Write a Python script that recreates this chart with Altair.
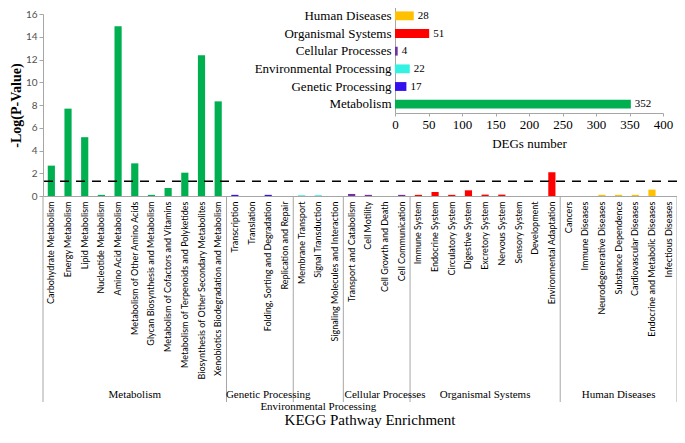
import altair as alt
import pandas as pd

categories = [
    "Carbohydrate Metabolism", "Energy Metabolism", "Lipid Metabolism", "Nucleotide Metabolism",
    "Amino Acid Metabolism", "Metabolism of Other Amino Acids", "Glycan Biosynthesis and Metabolism",
    "Metabolism of Cofactors and Vitamins", "Metabolism of Terpenoids and Polyketides",
    "Biosynthesis of Other Secondary Metabolites", "Xenobiotics Biodegradation  and Metabolism",
    "Transcription", "Translation", "Folding, Sorting and Degradation", "Replication and Repair",
    "Membrane Transport", "Signal Transduction", "Signaling Molecules and Interaction",
    "Transport and Catabolism", "Cell Motility", "Cell Growth and Death", "Cell Communication",
    "Immune System", "Endocrine System", "Circulatory System", "Digestive System", "Excretory System",
    "Nervous System", "Sensory System", "Development", "Environmental Adaptation",
    "Cancers", "Immune Diseases", "Neurodegenerative Diseases", "Substance Dependence",
    "Cardiovascular Diseases", "Endocrine and Metabolic  Diseases", "Infectious Diseases",
]
values = [
    2.67, 7.68, 5.17, 0.1, 14.93, 2.87, 0.1, 0.7, 2.05, 12.37, 8.32,
    0.1, 0.0, 0.1, 0.0,
    0.07, 0.07, 0.0,
    0.18, 0.1, 0.0, 0.1,
    0.1, 0.35, 0.1, 0.5, 0.12, 0.12, 0.0, 0.0, 2.08,
    0.0, 0.0, 0.1, 0.1, 0.1, 0.56, 0.0,
]
group_names = ["Metabolism", "Genetic Processing", "Environmental Processing",
               "Cellular Processes", "Organismal Systems", "Human Diseases"]
group_sizes = [11, 4, 3, 4, 9, 7]
group_colors = ["#00B050", "#3311EE", "#33F2E2", "#7030A0", "#FF0000", "#FFC000"]

deg_groups = ["Human Diseases", "Organismal Systems", "Cellular Processes",
              "Environmental Processing", "Genetic Processing", "Metabolism"]
deg_counts = [28, 51, 4, 22, 17, 352]

threshold = 1.3
y_ticks = list(range(0, 17, 2))
deg_ticks = list(range(0, 401, 50))

# ---- derived tables
grp_col = []
for g, n in zip(group_names, group_sizes):
    grp_col += [g] * n
df = pd.DataFrame({"cat": categories, "val": values, "grp": grp_col})

starts, odd_rows, even_rows = [], [], []
pos = 0
for g, n in zip(group_names, group_sizes):
    starts.append({"cat": categories[pos]})
    if n % 2 == 1:
        odd_rows.append({"cat": categories[pos + (n - 1) // 2], "name": g})
    else:
        even_rows.append({"cat": categories[pos + n // 2], "name": g})
    pos += n

W, H = 634, 182
GRAY = "#A6A6A6"
SERIF = "Liberation Serif"

xscale = alt.Scale(domain=categories, paddingInner=0, paddingOuter=0)
yscale = alt.Scale(domain=[0, 16], nice=False)
cscale = alt.Scale(domain=group_names, range=group_colors)

x_axis = alt.Axis(title=None, labelAngle=-90, ticks=False, domainColor=GRAY,
                  labelFont="Lato", labelFontSize=9, labelColor="black",
                  labelLimit=300, labelPadding=5, labelOverlap=False)
y_axis = alt.Axis(values=y_ticks, title="-Log(P-Value)", titleFont=SERIF,
                  titleFontWeight="bold", titleFontSize=14, titleColor="black",
                  labelFont="Lato", labelFontSize=10, labelColor="#505050",
                  grid=False, domainColor=GRAY, tickColor=GRAY, tickSize=4,
                  titlePadding=2)

bars = alt.Chart(df).mark_bar(width=alt.RelativeBandSize(0.43)).encode(
    x=alt.X("cat:N", scale=xscale, sort=None, axis=x_axis),
    y=alt.Y("val:Q", scale=yscale, axis=y_axis),
    color=alt.Color("grp:N", scale=cscale, legend=None),
)

thr = alt.Chart(pd.DataFrame({"val": [threshold]})).mark_rule(
    strokeDash=[9, 7], color="black", strokeWidth=1.5
).encode(y=alt.Y("val:Q", scale=yscale, axis=None))

sep = alt.Chart(pd.DataFrame(starts)).mark_rule(color=GRAY, strokeWidth=1).encode(
    x=alt.X("cat:N", scale=xscale, sort=None, axis=None, bandPosition=0),
    y=alt.value(H), y2=alt.value(388),
)
sep_end = alt.Chart(pd.DataFrame({"cat": [categories[-1]]})).mark_rule(
    color=GRAY, strokeWidth=1
).encode(
    x=alt.X("cat:N", scale=xscale, sort=None, axis=None, bandPosition=1),
    y=alt.value(H), y2=alt.value(388),
)

odd_df = pd.DataFrame(odd_rows)
lab_odd_top = alt.Chart(odd_df[odd_df["name"] != "Environmental Processing"]).mark_text(
    font=SERIF, fontSize=11, color="black", baseline="middle"
).encode(
    x=alt.X("cat:N", scale=xscale, sort=None, axis=None, bandPosition=0.5),
    y=alt.value(381), text="name:N",
)
lab_odd_low = alt.Chart(odd_df[odd_df["name"] == "Environmental Processing"]).mark_text(
    font=SERIF, fontSize=11, color="black", baseline="middle"
).encode(
    x=alt.X("cat:N", scale=xscale, sort=None, axis=None, bandPosition=0.5),
    y=alt.value(393), text="name:N",
)
lab_even = alt.Chart(pd.DataFrame(even_rows)).mark_text(
    font=SERIF, fontSize=11, color="black", baseline="middle"
).encode(
    x=alt.X("cat:N", scale=xscale, sort=None, axis=None, bandPosition=0),
    y=alt.value(381), text="name:N",
)
title_txt = alt.Chart(pd.DataFrame({"t": ["KEGG  Pathway Enrichment"]})).mark_text(
    font=SERIF, fontSize=15, color="black", baseline="alphabetic"
).encode(x=alt.value(W / 2 + 10), y=alt.value(411), text="t:N")

# ---- inset
ins_df = pd.DataFrame({"grp": deg_groups, "n": deg_counts})
iy_scale = alt.Scale(domain=deg_groups, range=[-7, 99], paddingInner=0.5, paddingOuter=0.25)
ix_scale = alt.Scale(domain=[0, 400], range=[352, 620], nice=False)
iy_axis = alt.Axis(orient="left", offset=-352, title=None, ticks=False, domainColor=GRAY,
                   labelFont=SERIF, labelFontSize=13, labelColor="black",
                   labelPadding=4, labelLimit=300)
ix_axis = alt.Axis(orient="bottom", offset=-83, values=deg_ticks, title="DEGs number",
                   grid=False, domainColor=GRAY, tickColor=GRAY, tickSize=3,
                   labelFont=SERIF, labelFontSize=13, labelColor="black", labelPadding=2,
                   labelFlush=False,
                   titleFont=SERIF, titleFontSize=13, titleFontWeight="normal",
                   titleColor="black", titlePadding=6)

ibars = alt.Chart(ins_df).mark_bar().encode(
    y=alt.Y("grp:N", sort=None, scale=iy_scale, axis=iy_axis),
    x=alt.X("n:Q", scale=ix_scale, axis=ix_axis),
    color=alt.Color("grp:N", scale=cscale, legend=None),
)
itext = alt.Chart(ins_df).mark_text(
    align="left", dx=4, baseline="middle", font=SERIF, fontSize=11, color="black"
).encode(
    y=alt.Y("grp:N", sort=None, scale=iy_scale, axis=None),
    x=alt.X("n:Q", scale=ix_scale, axis=None),
    text="n:Q",
)

chart = alt.layer(
    bars, thr, sep, sep_end, lab_odd_top, lab_odd_low, lab_even, title_txt, ibars, itext
).resolve_scale(
    x="independent", y="independent"
).properties(
    width=W, height=H,
    padding={"left": 35, "top": 6, "right": 0, "bottom": 233},
    autosize=alt.AutoSizeParams(type="none"),
).configure_view(stroke=None)

chart.save("out.html", embed_options={"renderer": "svg", "actions": False})
